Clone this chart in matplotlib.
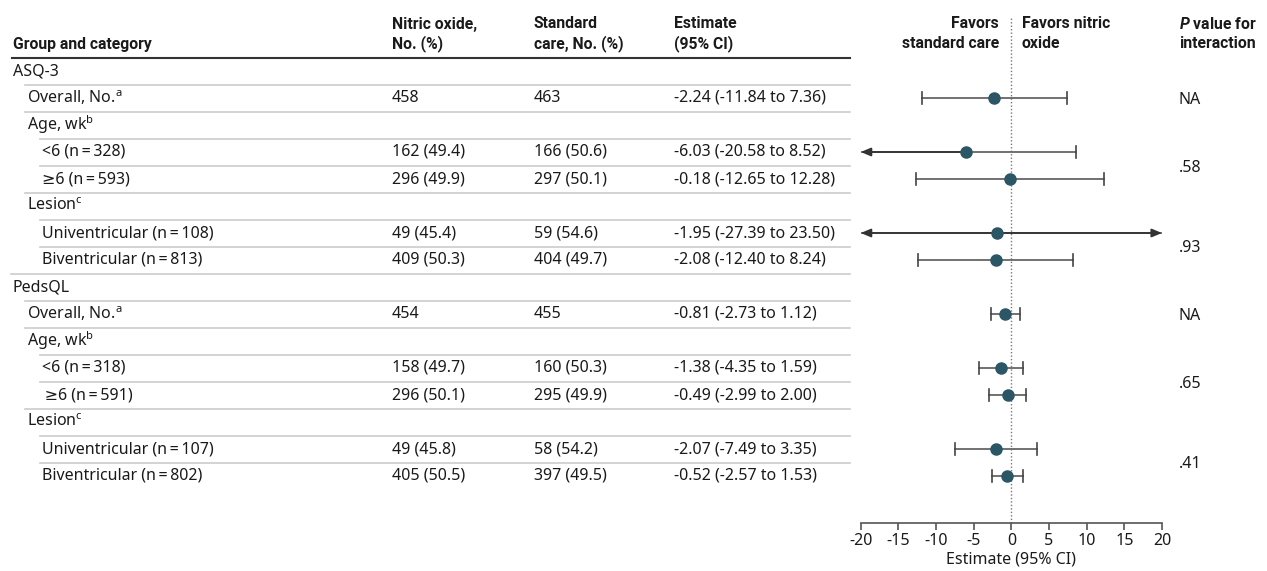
import numpy as np
import matplotlib
matplotlib.use('Agg')
import matplotlib.pyplot as plt

plt.rcParams['font.family'] = ['Noto Sans', 'DejaVu Sans']
plt.rcParams['mathtext.fontset'] = 'custom'
plt.rcParams['mathtext.rm'] = 'Noto Sans'
plt.rcParams['mathtext.it'] = 'Roboto:italic:bold'
plt.rcParams['axes.unicode_minus'] = False

# table data
labels = ['ASQ-3', r'Overall, No.$^{\mathrm{a}}$', r'Age, wk$^{\mathrm{b}}$',
          '<6 (n\u2009=\u2009328)', '\u22656 (n\u2009=\u2009593)', r'Lesion$^{\mathrm{c}}$',
          'Univentricular (n\u2009=\u2009108)', 'Biventricular (n\u2009=\u2009813)',
          'PedsQL', r'Overall, No.$^{\mathrm{a}}$', r'Age, wk$^{\mathrm{b}}$',
          '<6 (n\u2009=\u2009318)', '\u2009\u22656 (n\u2009=\u2009591)', r'Lesion$^{\mathrm{c}}$',
          'Univentricular (n\u2009=\u2009107)', 'Biventricular (n\u2009=\u2009802)']
levels = [0, 1, 1, 2, 2, 1, 2, 2, 0, 1, 1, 2, 2, 1, 2, 2]
nitric = ['', '458', '', '162 (49.4)', '296 (49.9)', '', '49 (45.4)', '409 (50.3)',
          '', '454', '', '158 (49.7)', '296 (50.1)', '', '49 (45.8)', '405 (50.5)']
standard = ['', '463', '', '166 (50.6)', '297 (50.1)', '', '59 (54.6)', '404 (49.7)',
            '', '455', '', '160 (50.3)', '295 (49.9)', '', '58 (54.2)', '397 (49.5)']
nan = np.nan
est = [nan, -2.24, nan, -6.03, -0.18, nan, -1.95, -2.08,
       nan, -0.81, nan, -1.38, -0.49, nan, -2.07, -0.52]
lo = [nan, -11.84, nan, -20.58, -12.65, nan, -27.39, -12.40,
      nan, -2.73, nan, -4.35, -2.99, nan, -7.49, -2.57]
hi = [nan, 7.36, nan, 8.52, 12.28, nan, 23.50, 8.24,
      nan, 1.12, nan, 1.59, 2.00, nan, 3.35, 1.53]
# (first row, last row, text)
pvals = [(1, 1, 'NA'), (3, 4, '.58'), (6, 7, '.93'),
         (9, 9, 'NA'), (11, 12, '.65'), (14, 15, '.41')]

txt_color = '#1a1a1a'
dot_color = '#2b5666'
fs = 11.5
hfs = 11.3

fig = plt.figure(figsize=(12.67, 5.71), dpi=100)
tab = fig.add_axes([0, 0, 1, 1])
tab.set_xlim(0, 1267)
tab.set_ylim(571, 0)
tab.axis('off')

indent_x = [13, 27, 42]
col_x = [392, 534, 674]
row_y = [71 + 27 * i for i in range(len(labels))]

# headers
hdr = dict(fontsize=hfs, fontweight='bold', color=txt_color, va='center',
           family=['Roboto', 'DejaVu Sans'])
tab.text(13, 44, 'Group and category', **hdr)
tab.text(col_x[0], 24, 'Nitric oxide,', **hdr)
tab.text(col_x[0], 44, 'No. (%)', **hdr)
tab.text(col_x[1], 24, 'Standard', **hdr)
tab.text(col_x[1], 44, 'care, No. (%)', **hdr)
tab.text(col_x[2], 24, 'Estimate', **hdr)
tab.text(col_x[2], 44, '(95% CI)', **hdr)
tab.text(999, 24, 'Favors', ha='right', **hdr)
tab.text(999, 44, 'standard care', ha='right', **hdr)
tab.text(1022, 24, 'Favors nitric', **hdr)
tab.text(1022, 44, 'oxide', **hdr)
tab.text(1179, 24, r'$\mathit{P}$ value for', **hdr)
tab.text(1179, 44, 'interaction', **hdr)
tab.plot([12, 850], [57.5, 57.5], color='#333333', lw=1.5)

body = dict(fontsize=fs, color=txt_color, va='center')
for i, lab in enumerate(labels):
    y = row_y[i]
    x0 = indent_x[levels[i]]
    tab.text(x0, y, lab, **body)
    tab.text(col_x[0], y, nitric[i], **body)
    tab.text(col_x[1], y, standard[i], **body)
    if not np.isnan(est[i]):
        tab.text(col_x[2], y, f'{est[i]:.2f} ({lo[i]:.2f} to {hi[i]:.2f})', **body)
    if i > 0:
        tab.plot([x0 - 2, 850], [y - 13.5, y - 13.5], color='#cccccc', lw=1.2)

for a, b, p in pvals:
    tab.text(1179, (row_y[a] + row_y[b]) / 2 + 2, p, **body)

# forest plot
ax = fig.add_axes([860.7 / 1267, 48 / 571, 301.3 / 1267, 505 / 571])
ax.patch.set_alpha(0)
ax.set_xlim(-20, 20)
ax.set_ylim(523, 18)
for s in ['left', 'right', 'top']:
    ax.spines[s].set_visible(False)
ax.spines['bottom'].set_color('#555555')
ax.spines['bottom'].set_linewidth(1.2)
ax.set_yticks([])
ax.set_xticks(range(-20, 25, 5))
ax.tick_params(axis='x', length=5, width=1.2, color='#555555', labelsize=fs,
               labelcolor=txt_color, pad=2)
ax.set_xlabel('Estimate (95% CI)', fontsize=fs, color=txt_color, labelpad=2)
ax.axvline(0, color='#777777', lw=1, ls=(0, (1, 1.5)), zorder=1)

line_color = '#666666'
for i in range(len(labels)):
    if np.isnan(est[i]):
        continue
    y = row_y[i]
    left = max(lo[i], -20)
    right = min(hi[i], 20)
    ax.plot([left, right], [y, y], color=line_color, lw=1.3, zorder=2)
    for end, lim in [(lo[i], -20), (hi[i], 20)]:
        if abs(end) > 20:
            ax.annotate('', xy=(lim, y), xytext=(est[i], y), zorder=3,
                        arrowprops=dict(arrowstyle='-|>,head_length=0.6,head_width=0.25',
                                        color='#333333', lw=1.3, shrinkA=0, shrinkB=0))
        else:
            ax.plot([end, end], [y - 6, y + 6], color='#444444', lw=1.2, zorder=2)
    ax.plot(est[i], y, 'o', color=dot_color, markersize=8, zorder=4)

fig.savefig('out.png', dpi=100)
